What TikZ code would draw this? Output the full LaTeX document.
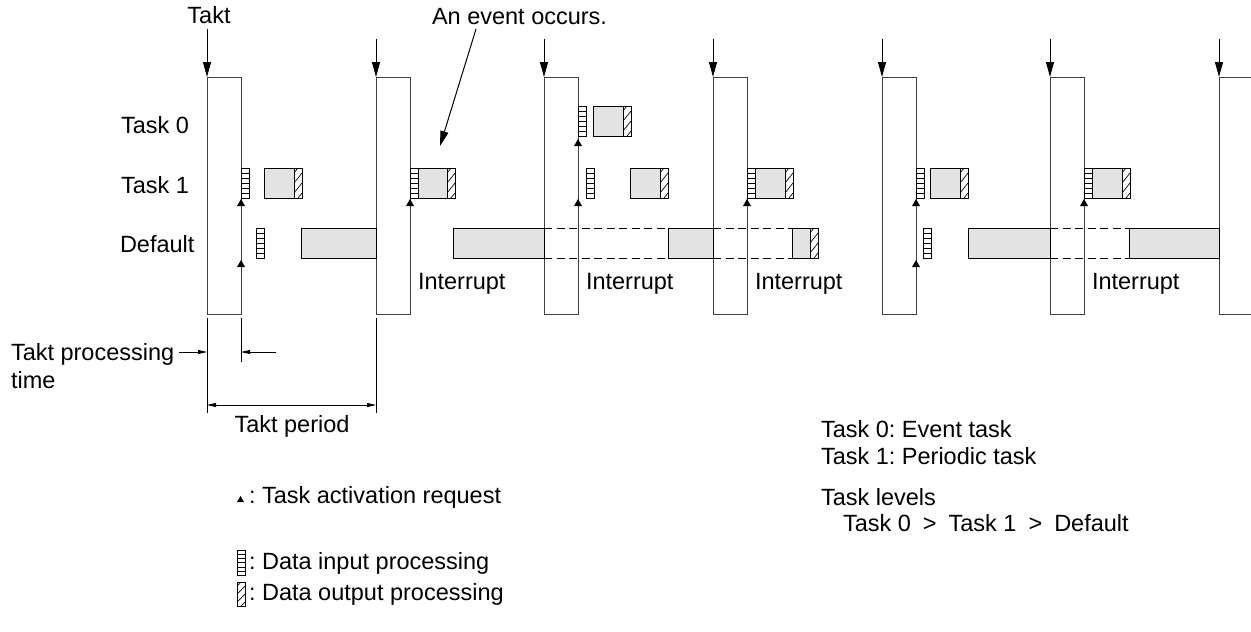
\documentclass[tikz,border=0pt]{standalone}
\usepackage{fontspec}
\setmainfont{Liberation Sans}
\usetikzlibrary{arrows.meta}
\frenchspacing
\begin{document}
\begin{tikzpicture}[x=1pt,y=-1pt,line width=1pt,
  every node/.style={inner sep=0pt,outer sep=0pt,font=\fontsize{23.5}{28}\selectfont},
  colbox/.style={draw=black!75,line width=1pt,minimum width=34pt,minimum height=237pt,anchor=north west},
  busy/.style={draw=black,line width=1pt,fill=black!11},
  idle/.style={draw=black,line width=0.9pt,dash pattern=on 8pt off 4.5pt},
  mk/.style={draw=black,line width=0.8pt},
  taktarrow/.style={draw=black,line width=1pt,-{Triangle[width=8pt,length=15pt]}},
  dimarrow/.style={draw=black,line width=0.8pt,-{Triangle[width=4pt,length=9pt]}},
  ext/.style={draw=black,line width=0.8pt},
  inmark/.pic={
    \draw[mk] (0,0) rectangle (8,30);
    \foreach \k in {5,10,15,20,25} \draw[mk] (0,\k) -- (8,\k);
  },
  outmark/.pic={
    \begin{scope}
      \clip (0,0) rectangle (8,30);
      \foreach \k in {5,15,25,35} \draw[black,line width=0.7pt] (0,\k) -- (8,\k-10);
    \end{scope}
    \draw[mk] (0,0) rectangle (8,30);
  },
  req/.pic={\fill[black] (-4,7) -- (0,0) -- (4,7) -- cycle;}
]
\useasboundingbox (0,0) rectangle (1251,632);

% takt columns
\foreach \i/\L in {1/207,2/376,3/544,4/713,5/882,6/1050,7/1219}
  \node[colbox] (col\i) at (\L,77) {};

% takt arrows
\node[anchor=base] (takt) at (209,23) {Takt};
\coordinate (t1) at (207,29);
\draw[taktarrow] (t1) -- (col1.north west);
\foreach \i/\L in {2/376,3/544,4/713,5/882,6/1050,7/1219}{
  \coordinate (t\i) at (\L,39);
  \draw[taktarrow] (t\i) -- (col\i.north west);
}

% row labels
\node[anchor=base west] (l0) at (121,133) {Task 0};
\node[anchor=base west] (l1) at (121,193) {Task 1};
\node[anchor=base west] (ld) at (120,252) {Default};

% period 1
\pic at (241,168) {inmark};
\draw[busy] (264,168) rectangle (294,198); \pic at (294,168) {outmark};
\pic at (256,228) {inmark};
\draw[busy] (301,228) rectangle (376,258);
\pic at (241,199) {req}; \pic at (241,260) {req};

% period 2
\pic at (410,168) {inmark};
\draw[busy] (418,168) rectangle (447,198); \pic at (447,168) {outmark};
\draw[busy] (453,228) rectangle (544,258);
\draw[idle] (544,228) -- (668,228) (544,258) -- (668,258);
\pic at (410,199) {req};

% period 3
\pic at (578,106) {inmark};
\draw[busy] (593,106) rectangle (623,136); \pic at (623,106) {outmark};
\pic at (586,168) {inmark};
\draw[busy] (630,168) rectangle (660,198); \pic at (660,168) {outmark};
\draw[busy] (668,228) rectangle (713,258);
\draw[idle] (713,228) -- (792,228) (713,258) -- (792,258);
\pic at (578,139) {req}; \pic at (578,199) {req};

% period 4
\pic at (747,168) {inmark};
\draw[busy] (755,168) rectangle (785,198); \pic at (785,168) {outmark};
\draw[busy] (792,228) rectangle (810,258); \pic at (810,228) {outmark};
\pic at (747,199) {req};

% period 5
\pic at (916,168) {inmark};
\draw[busy] (930,168) rectangle (960,198); \pic at (960,168) {outmark};
\pic at (923,228) {inmark};
\draw[busy] (968,228) rectangle (1050,258);
\draw[idle] (1050,228) -- (1129,228) (1050,258) -- (1129,258);
\pic at (916,199) {req}; \pic at (916,260) {req};

% period 6
\pic at (1084,168) {inmark};
\draw[busy] (1092,168) rectangle (1122,198); \pic at (1122,168) {outmark};
\draw[busy] (1129,228) rectangle (1219,258);
\pic at (1084,199) {req};

% interrupt labels
\foreach \x in {418,586,755,1092}
  \node[anchor=base west] at (\x,289) {Interrupt};

% event annotation
\node[anchor=base west] (event) at (432,24) {An event occurs.};
\coordinate (evs) at (476,29);
\coordinate (evt) at (440,146);
\draw[taktarrow] (evs) -- (evt);

% dimensions
\draw[ext] (207,318) -- (207,413);
\draw[ext] (241,318) -- (241,362);
\draw[ext] (376,318) -- (376,413);
\node[anchor=base west] (tpt) at (11,360) {Takt processing};
\node[anchor=base west] (tpt2) at (11,388) {time};
\coordinate (tpl) at (179,352);
\coordinate (tpr) at (276,352);
\draw[dimarrow] (tpl) -- (207,352);
\draw[dimarrow] (tpr) -- (241,352);
\draw[ext,{Triangle[width=4pt,length=9pt]}-{Triangle[width=4pt,length=9pt]}] (207,405) -- (376,405);
\node[anchor=base] (tp) at (292,432) {Takt period};

% legend
\fill[black] (237,502) -- (240.5,496) -- (244,502) -- cycle;
\node[anchor=base west] (lg1) at (249,503) {: Task activation request};
\pic[yscale=0.85] at (237,550) {inmark};
\node[anchor=base west] (lg2) at (249,569) {: Data input processing};
\pic[yscale=0.8] at (237,582) {outmark};
\node[anchor=base west] (lg3) at (249,600) {: Data output processing};

% notes
\node[anchor=base west] (n1) at (821,437) {Task 0: Event task};
\node[anchor=base west] (n2) at (821,464) {Task 1: Periodic task};
\node[anchor=base west] (n3) at (821,505) {Task levels};
\node[anchor=base west] (n4) at (843,531) {Task 0\hspace{12pt}>\hspace{12pt}Task 1\hspace{12pt}>\hspace{12pt}Default};
\end{tikzpicture}
\end{document}
